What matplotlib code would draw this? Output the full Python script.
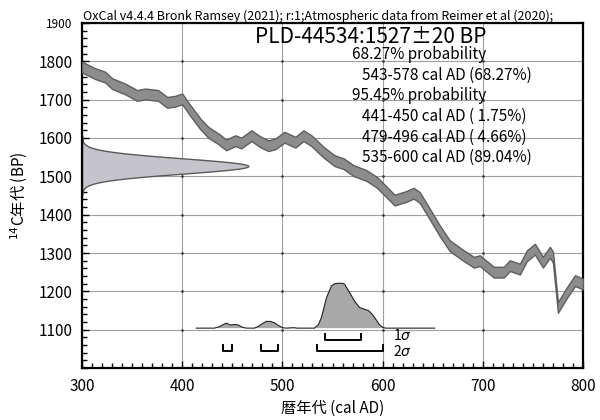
import numpy as np
import matplotlib
matplotlib.use("Agg")
import matplotlib.pyplot as plt
from matplotlib.ticker import MultipleLocator

plt.rcParams["font.family"] = ["Noto Sans CJK JP", "DejaVu Sans"]
plt.rcParams["mathtext.fontset"] = "dejavusans"

# Atmospheric calibration curve (cal AD -> 14C BP), 1 sigma band half-width
curve_ad = [300, 313, 323, 330, 343, 355, 363, 376, 385, 393, 400, 408, 418, 426,
            436, 444, 453, 459, 469, 478, 486, 493, 502, 513, 521, 529, 541, 552,
            561, 571, 584, 594, 604, 612, 623, 631, 637, 647, 657, 667, 681, 691,
            697, 711, 721, 727, 737, 744, 752, 760, 767, 770, 775, 783, 792, 800]
curve_bp = [1785, 1768, 1759, 1742, 1728, 1711, 1715, 1711, 1693, 1696, 1702, 1672,
            1637, 1615, 1598, 1582, 1593, 1587, 1606, 1590, 1580, 1585, 1602, 1589,
            1606, 1593, 1563, 1541, 1533, 1515, 1502, 1485, 1459, 1438, 1447, 1456,
            1445, 1402, 1358, 1319, 1293, 1276, 1280, 1250, 1250, 1267, 1258, 1293,
            1310, 1276, 1302, 1289, 1158, 1193, 1228, 1219]
curve_sigma = 14

# measured radiocarbon age
sample_name = "PLD-44534"
date_bp = 1527
date_err = 20

# calibrated probability (relative to its maximum)
prob_ad = [414, 432, 437, 441, 444, 448, 452, 456, 460, 464, 472, 476, 480, 484,
           488, 492, 496, 500, 504, 508, 511, 515, 532, 536, 539, 544, 549, 552,
           556, 560, 562, 565, 569, 572, 577, 582, 586, 590, 594, 597, 600, 603, 652]
prob_rel = [0, 0, 0.03, 0.08, 0.11, 0.07, 0.08, 0.07, 0.02, 0, 0, 0.04, 0.10, 0.15,
            0.15, 0.12, 0.06, 0.01, 0, 0.005, 0.01, 0, 0, 0.08, 0.24, 0.68, 0.94,
            0.99, 1.0, 1.0, 0.98, 0.87, 0.72, 0.60, 0.46, 0.42, 0.39, 0.30, 0.17,
            0.07, 0.02, 0, 0]

range_1s = [(543, 578, 68.27)]
range_2s = [(441, 450, 1.75), (479, 496, 4.66), (535, 600, 89.04)]

fig = plt.figure(figsize=(6, 4.2), dpi=100)
ax = fig.add_axes([82 / 600, 1 - 368 / 420, (583 - 82) / 600, (368 - 23) / 420])
ax.set_xlim(300, 800)
ax.set_ylim(1000, 1900)

ax.set_xticks(range(300, 801, 100))
ax.set_yticks(range(1100, 1901, 100))
ax.xaxis.set_minor_locator(MultipleLocator(10))
ax.yaxis.set_minor_locator(MultipleLocator(20))
ax.tick_params(which="both", direction="in", top=False, right=False, width=1, color="k")
ax.tick_params(which="major", length=5, labelsize=11, pad=7)
ax.tick_params(which="minor", length=3.5)
ax.get_yticklabels()[-1].set_fontsize(8.5)
for s in ax.spines.values():
    s.set_linewidth(1.6)

ax.grid(True, which="major", color="#a0a0a0", linewidth=0.8, zorder=0)
ax.set_axisbelow(True)
gx, gy = np.meshgrid(range(400, 800, 100), range(1100, 1900, 100))
ax.plot(gx.ravel(), gy.ravel(), ls="none", marker="s", ms=0.8, color="#333333", zorder=1)

# radiocarbon date on the y axis
ys = np.linspace(date_bp - 4 * date_err, date_bp + 4 * date_err, 300)
w = 166 * np.exp(-0.5 * ((ys - date_bp) / date_err) ** 2)
ax.fill_betweenx(ys, 300, 300 + w, facecolor="#c4c4ca", edgecolor="#5a5a5a",
                 linewidth=1, zorder=2)

# calibration curve band
cad = np.array(curve_ad)
cbp = np.array(curve_bp)
ax.fill_between(cad, cbp - curve_sigma, cbp + curve_sigma, facecolor="#8c8c8c",
                edgecolor="#5e5e5e", linewidth=1.0, zorder=3)

# calibrated distribution
base = 1104
pa = np.array(prob_ad)
pr = np.array(prob_rel)
ax.fill_between(pa, base, base + 117 * pr, facecolor="#a8a8a8", edgecolor="none", zorder=3)
ax.plot(pa, base + 117 * pr, color="#222222", linewidth=0.8, zorder=4)

# probability range brackets
for (lo, hi, _), y0 in [(r, 1074) for r in range_1s] + [(r, 1045) for r in range_2s]:
    ax.plot([lo, lo, hi, hi], [y0 + 15, y0, y0, y0 + 15], color="k", linewidth=1.4, zorder=4)
ax.text(610, 1086, "1$\\sigma$", fontsize=10, va="center", ha="left")
ax.text(610, 1044, "2$\\sigma$", fontsize=10, va="center", ha="left")

# labels
ax.text(472.5, 1849, f"{sample_name}:{date_bp}\u00b1{date_err} BP", fontsize=15,
        va="baseline", ha="left")
lines = [("68.27% probability", 569.5)]
lines += [(f"{lo}-{hi} cal AD ({p:5.2f}%)", 579.5) for lo, hi, p in range_1s]
lines += [("95.45% probability", 569.5)]
lines += [(f"{lo}-{hi} cal AD ({p:5.2f}%)", 579.5) for lo, hi, p in range_2s]
for i, (txt, xpos) in enumerate(lines):
    ax.text(xpos, 1805 - i * 53.5, txt, fontsize=11, va="baseline", ha="left")

fig.text(83 / 600, 1 - 20 / 420,
         "OxCal v4.4.4 Bronk Ramsey (2021); r:1;Atmospheric data from Reimer et al (2020);",
         fontsize=9, va="baseline", ha="left")

ax.set_xlabel("暦年代 (cal AD)", fontsize=11, labelpad=4)
ax.set_ylabel("$^{14}$C年代 (BP)", fontsize=11, labelpad=6)

fig.savefig("out.png", dpi=100)
